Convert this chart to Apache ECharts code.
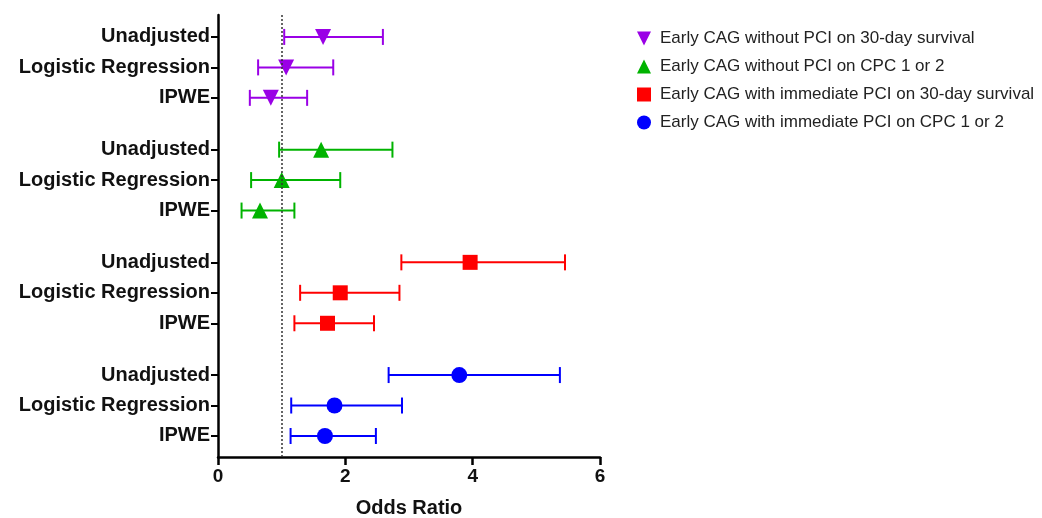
<!DOCTYPE html>
<html>
<head>
<meta charset="utf-8">
<script src="https://cdn.jsdelivr.net/npm/echarts@6/dist/echarts.min.js"></script>
<style>
  html, body { margin: 0; padding: 0; background: #fff; }
  #chart { width: 1042px; height: 518px; }
</style>
</head>
<body>
<div id="chart"></div>
<script>
// row labels and their vertical positions (gaps between groups)
const rowLabels = ['Unadjusted', 'Logistic Regression', 'IPWE']
const rowPos = [0, 1, 2, 3.7, 4.7, 5.7, 7.4, 8.4, 9.4, 11.1, 12.1, 13.1]

const seriesNames = [
  'Early CAG without PCI on 30-day survival',
  'Early CAG without PCI on CPC 1 or 2',
  'Early CAG with immediate PCI on 30-day survival',
  'Early CAG with immediate PCI on CPC 1 or 2'
]

// odds ratio, lower and upper 95% CI per group (Unadjusted, Logistic Regression, IPWE)
const orNoPciSurv = [1.65, 1.07, 0.83]
const loNoPciSurv = [1.04, 0.63, 0.50]
const hiNoPciSurv = [2.59, 1.81, 1.40]

const orNoPciCpc = [1.62, 1.00, 0.66]
const loNoPciCpc = [0.96, 0.52, 0.37]
const hiNoPciCpc = [2.74, 1.92, 1.20]

const orPciSurv = [3.96, 1.92, 1.72]
const loPciSurv = [2.88, 1.29, 1.20]
const hiPciSurv = [5.45, 2.85, 2.45]

const orPciCpc = [3.79, 1.83, 1.68]
const loPciCpc = [2.68, 1.15, 1.14]
const hiPciCpc = [5.37, 2.89, 2.48]

const xTicks = [0, 2, 4, 6]

const font = 'Liberation Sans, Arial, sans-serif'

const groups = [
  { or: orNoPciSurv, lo: loNoPciSurv, hi: hiNoPciSurv, color: '#9a00e6', symbol: 'triangle', rotate: 180, icon: 'path://M0,0L10,0L5,10Z' },
  { or: orNoPciCpc, lo: loNoPciCpc, hi: hiNoPciCpc, color: '#00b300', symbol: 'triangle', rotate: 0, icon: 'path://M5,0L10,10L0,10Z' },
  { or: orPciSurv, lo: loPciSurv, hi: hiPciSurv, color: '#ff0000', symbol: 'rect', rotate: 0, icon: 'rect' },
  { or: orPciCpc, lo: loPciCpc, hi: hiPciCpc, color: '#0000ff', symbol: 'circle', rotate: 0, icon: 'circle' }
]

const chart = echarts.init(document.getElementById('chart'))

const errorBar = (params, api) => {
  const lo = api.coord([api.value(0), api.value(2)])
  const hi = api.coord([api.value(1), api.value(2)])
  const cap = 8
  const style = { stroke: api.visual('color'), lineWidth: 2 }
  return {
    type: 'group',
    children: [
      { type: 'line', shape: { x1: lo[0], y1: lo[1], x2: hi[0], y2: hi[1] }, style },
      { type: 'line', shape: { x1: lo[0], y1: lo[1] - cap, x2: lo[0], y2: lo[1] + cap }, style },
      { type: 'line', shape: { x1: hi[0], y1: hi[1] - cap, x2: hi[0], y2: hi[1] + cap }, style }
    ]
  }
}

const series = []
groups.forEach((g, gi) => {
  const ys = rowPos.slice(gi * 3, gi * 3 + 3)
  series.push({
    name: seriesNames[gi],
    type: 'custom',
    renderItem: errorBar,
    itemStyle: { color: g.color },
    encode: { x: [0, 1], y: 2 },
    data: g.lo.map((v, i) => [v, g.hi[i], ys[i]]),
    z: 2
  })
  series.push({
    name: seriesNames[gi],
    type: 'scatter',
    symbol: g.symbol,
    symbolRotate: g.rotate,
    symbolSize: g.symbol === 'rect' ? 15 : 16,
    itemStyle: { color: g.color, opacity: 1 },
    data: g.or.map((v, i) => [v, ys[i]]),
    z: 3
  })
})

// reference line at OR = 1
series.push({
  type: 'line',
  data: [],
  markLine: {
    silent: true,
    symbol: 'none',
    label: { show: false },
    lineStyle: { type: [2, 2], color: '#333', width: 1.5 },
    data: [{ xAxis: 1 }]
  },
  z: 4
})

const option = {
  animation: false,
  grid: { left: 218, right: 442, top: 15, bottom: 61, outerBoundsMode: 'none' },
  legend: {
    orient: 'vertical',
    left: 632,
    top: 25,
    itemWidth: 14,
    itemHeight: 14,
    itemGap: 11,
    textStyle: { fontFamily: font, fontSize: 17, color: '#222', padding: [0, 0, 0, 4] },
    data: seriesNames.map((n, i) => ({ name: n, icon: groups[i].icon, itemStyle: { color: groups[i].color } }))
  },
  xAxis: {
    type: 'value',
    min: 0,
    max: 6,
    interval: 2,
    name: 'Odds Ratio',
    nameLocation: 'middle',
    nameGap: 41,
    nameTextStyle: { fontFamily: font, fontSize: 20, fontWeight: 'bold', color: '#111' },
    axisLine: { onZero: false, lineStyle: { color: '#000', width: 2.5 } },
    axisTick: { length: 8, lineStyle: { color: '#000', width: 2.5 } },
    axisLabel: {
      fontFamily: font, fontSize: 19, fontWeight: 'bold', color: '#111', margin: 10,
      formatter: v => (xTicks.includes(v) ? String(v) : '')
    },
    splitLine: { show: false }
  },
  yAxis: {
    type: 'value',
    inverse: true,
    min: -0.72,
    max: 13.79,
    axisLine: { show: true, onZero: false, lineStyle: { color: '#000', width: 2.5 } },
    axisTick: { show: true, customValues: rowPos, length: 7, lineStyle: { color: '#000', width: 2 } },
    axisLabel: {
      customValues: rowPos,
      margin: 8,
      fontFamily: font,
      fontSize: 20,
      fontWeight: 'bold',
      color: '#111',
      formatter: v => {
        const idx = rowPos.findIndex(p => Math.abs(p - v) < 1e-6)
        return idx >= 0 ? rowLabels[idx % 3] : ''
      }
    },
    splitLine: { show: false }
  },
  series
}

chart.setOption(option)
</script>
</body>
</html>
